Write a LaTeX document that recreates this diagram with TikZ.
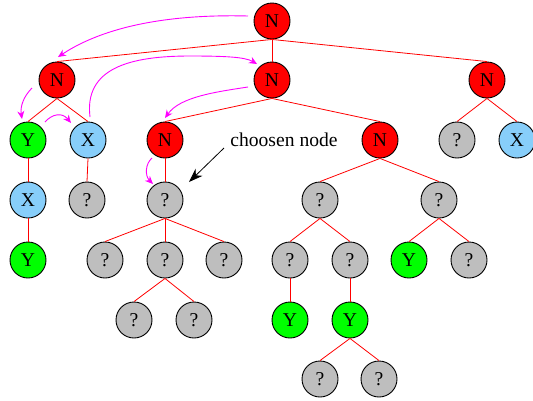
\documentclass[tikz,border=0pt]{standalone}
\usepackage{fontspec}
\setmainfont{Liberation Serif}
\usetikzlibrary{arrows.meta}
\definecolor{nred}{RGB}{255,0,0}
\definecolor{ngreen}{RGB}{0,255,0}
\definecolor{nblue}{RGB}{135,206,250}
\definecolor{ngray}{RGB}{190,190,190}
\definecolor{mag}{RGB}{255,0,255}
\begin{document}
\begin{tikzpicture}[x=1pt,y=-1pt,
  tn/.style={circle,draw=black,line width=0.9pt,minimum size=36pt,inner sep=0pt,
    font=\fontsize{19.6}{22}\selectfont},
  nn/.style={tn,fill=nred},
  yn/.style={tn,fill=ngreen},
  xn/.style={tn,fill=nblue},
  qn/.style={tn,fill=ngray},
  edge/.style={draw=nred,line width=0.8pt},
  marrow/.style={draw=mag,line width=0.9pt,-{Stealth[length=8pt,width=7pt]}},
  barrow/.style={draw=black,line width=0.8pt,-{Stealth[length=14pt,width=10pt,inset=4.5pt]}}]
\useasboundingbox (0,0) rectangle (533,400);
% nodes
\node[nn] (r) at (272,21) {N};
\node[nn] (a) at (57,80) {N};
\node[nn] (b) at (272,80) {N};
\node[nn] (c) at (487,80) {N};
\node[yn] (a1) at (28,140) {Y};
\node[xn] (a2) at (88,140) {X};
\node[nn] (b1) at (165,140) {N};
\node[nn] (b2) at (380,140) {N};
\node[qn] (c1) at (457,140) {?};
\node[xn] (c2) at (517,140) {X};
\node[xn] (a11) at (28,200) {X};
\node[qn] (a21) at (87,200) {?};
\node[qn] (b11) at (165,200) {?};
\node[qn] (b21) at (320,200) {?};
\node[qn] (b22) at (439,200) {?};
\node[yn] (a111) at (28,260) {Y};
\node[qn] (b111) at (105,260) {?};
\node[qn] (b112) at (165,260) {?};
\node[qn] (b113) at (224,260) {?};
\node[qn] (b211) at (290,260) {?};
\node[qn] (b212) at (350,260) {?};
\node[yn] (b221) at (409,260) {Y};
\node[qn] (b222) at (469,260) {?};
\node[qn] (b1121) at (134,320) {?};
\node[qn] (b1122) at (194,320) {?};
\node[yn] (b2111) at (290,320) {Y};
\node[yn] (b2121) at (350,320) {Y};
\node[qn] (b21211) at (320,379) {?};
\node[qn] (b21212) at (379,379) {?};
% edges
\foreach \p/\c in {r/a,r/b,r/c,a/a1,a/a2,b/b1,b/b2,c/c1,c/c2,a1/a11,a2/a21,b1/b11,
  b2/b21,b2/b22,a11/a111,b11/b111,b11/b112,b11/b113,b21/b211,b21/b212,b22/b221,b22/b222,
  b112/b1121,b112/b1122,b211/b2111,b212/b2121,b2121/b21211,b2121/b21212}
  \draw[edge] (\p.south) -- (\c.north);
% label
\node[font=\fontsize{19.6}{22}\selectfont,inner sep=0pt] (lbl) at (284,140) {choosen node};
\coordinate (bs) at (224,148);
\coordinate (bt) at (189,182);
\draw[barrow] (bs) -- (bt);
% magenta traversal arrows
\coordinate (m1s) at (248,16);  \coordinate (m1t) at (58,57);
\coordinate (m2s) at (32,88);   \coordinate (m2t) at (22,119);
\coordinate (m3s) at (45,122);  \coordinate (m3t) at (71,123);
\coordinate (m4s) at (90,117);  \coordinate (m4t) at (257,64);
\coordinate (m5s) at (248,87);  \coordinate (m5t) at (165,118);
\coordinate (m6s) at (152,158); \coordinate (m6t) at (153,184);
\draw[marrow] (m1s) .. controls (170,14) and (105,26) .. (m1t);
\draw[marrow] (m2s) .. controls (24,96) and (20,106) .. (m2t);
\draw[marrow] (m3s) .. controls (52,114) and (62,112) .. (m3t);
\draw[marrow] (m4s) .. controls (84,68) and (130,56) .. (190,56) .. controls (225,56) and (245,57) .. (m4t);
\draw[marrow] (m5s) .. controls (215,92) and (180,97) .. (m5t);
\draw[marrow] (m6s) .. controls (145,164) and (145,176) .. (m6t);
\end{tikzpicture}
\end{document}
